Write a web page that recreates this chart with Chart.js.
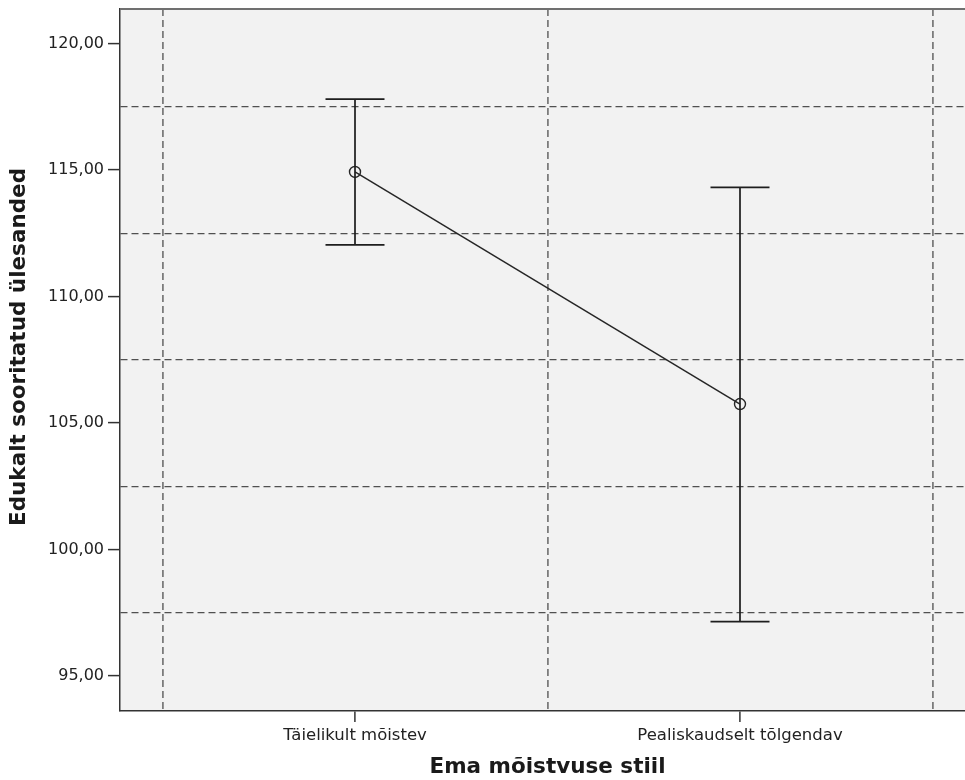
<!DOCTYPE html>
<html>
<head>
<meta charset="utf-8">
<script src="https://cdn.jsdelivr.net/npm/chart.js@4/dist/chart.umd.min.js"></script>
<style>
  html, body { margin: 0; padding: 0; background: #ffffff; overflow: hidden; }
  #wrap { width: 965px; height: 780px; overflow: hidden; position: relative; }
  canvas { display: block; }
</style>
</head>
<body>
<div id="wrap"><canvas id="c" width="975" height="780"></canvas></div>
<script>
// ---- data ----
const categories = ['Täielikult mõistev', 'Pealiskaudselt tõlgendav'];
const means = [114.92, 105.75];
const lowerCI = [112.04, 97.15];
const upperCI = [117.80, 114.31];
const yLabelTicks = [95, 100, 105, 110, 115, 120];
const yGridTicks = [97.5, 102.5, 107.5, 112.5, 117.5];
const xGridTicks = [-0.5, 0.5, 1.5];
const xTitle = 'Ema mõistvuse stiil';
const yTitle = 'Edukalt sooritatud ülesanded';

const AXIS_MIN_Y = 93.62, AXIS_MAX_Y = 121.36;
const AXIS_MIN_X = -0.6104, AXIS_MAX_X = 1.6104;

const FONT = '"DejaVu Sans", "Liberation Sans", sans-serif';

const isLabelTickY = v => yLabelTicks.some(t => Math.abs(t - v) < 1e-6);
const isCategoryTickX = v => Math.abs(v - Math.round(v)) < 1e-6;

const bgPlugin = {
  id: 'bg',
  beforeDraw(chart) {
    const { ctx, chartArea: a } = chart;
    ctx.save();
    ctx.fillStyle = '#ffffff';
    ctx.fillRect(0, 0, chart.width, chart.height);
    ctx.fillStyle = '#f2f2f2';
    ctx.fillRect(a.left, a.top, a.right - a.left, a.bottom - a.top);
    ctx.restore();
  },
  afterDraw(chart) {
    const { ctx, chartArea: a } = chart;
    ctx.save();
    ctx.strokeStyle = '#707070';
    ctx.lineWidth = 2;
    ctx.beginPath();
    ctx.moveTo(a.left, a.top);
    ctx.lineTo(a.right, a.top);
    ctx.stroke();
    ctx.restore();
  }
};

// shifts the y-axis title slightly upward along the axis (as in the reference)
const titleShiftPlugin = {
  id: 'titleShift',
  afterLayout(chart, args, opts) {
    const ys = chart.scales.y;
    if (!ys || ys._shiftWrapped) return;
    const orig = ys.drawTitle;
    ys.drawTitle = function () {
      const ctx = this.ctx;
      ctx.save();
      ctx.translate(0, opts.shiftY);
      orig.apply(this, arguments);
      ctx.restore();
    };
    ys._shiftWrapped = true;
  }
};

const errorBarPlugin = {
  id: 'errorBars',
  afterDatasetsDraw(chart, args, opts) {
    const { ctx } = chart;
    const xs = chart.scales.x, ys = chart.scales.y;
    const half = opts.capHalfWidth;
    ctx.save();
    ctx.strokeStyle = opts.color;
    ctx.lineWidth = opts.lineWidth;
    ctx.setLineDash([]);
    categories.forEach((c, i) => {
      const x = xs.getPixelForValue(i);
      const yl = ys.getPixelForValue(lowerCI[i]);
      const yu = ys.getPixelForValue(upperCI[i]);
      ctx.beginPath();
      ctx.moveTo(x, yu); ctx.lineTo(x, yl);
      ctx.moveTo(x - half, yu); ctx.lineTo(x + half, yu);
      ctx.moveTo(x - half, yl); ctx.lineTo(x + half, yl);
      ctx.stroke();
    });
    ctx.restore();
  }
};

function zeroPadding(scale) {
  scale.paddingTop = 0;
  scale.paddingBottom = 0;
  scale.paddingLeft = 0;
  scale.paddingRight = 0;
}

new Chart(document.getElementById('c'), {
  type: 'line',
  data: {
    datasets: [{
      data: means.map((m, i) => ({ x: i, y: m })),
      borderColor: '#262626',
      borderWidth: 1.5,
      pointRadius: 5.5,
      pointBorderWidth: 1.4,
      pointBorderColor: '#262626',
      pointBackgroundColor: 'rgba(0,0,0,0)',
      fill: false,
      tension: 0
    }]
  },
  options: {
    responsive: false,
    devicePixelRatio: 1,
    animation: false,
    layout: { autoPadding: false, padding: { top: 9, right: 0, left: 0, bottom: 0 } },
    plugins: {
      legend: { display: false },
      tooltip: { enabled: false },
      errorBars: { capHalfWidth: 29.5, color: '#1e1e1e', lineWidth: 1.7 },
      titleShift: { shiftY: -13 }
    },
    scales: {
      x: {
        type: 'linear',
        min: AXIS_MIN_X,
        max: AXIS_MAX_X,
        afterBuildTicks(scale) {
          const vals = categories.map((c, i) => i).concat(xGridTicks).sort((a, b) => a - b);
          scale.ticks = vals.map(v => ({ value: v }));
        },
        afterFit(scale) { scale.height = 69; zeroPadding(scale); },
        ticks: {
          autoSkip: false,
          maxRotation: 0,
          padding: 4,
          color: '#222222',
          font: { family: FONT, size: 16.5 },
          callback: (v) => isCategoryTickX(v) ? categories[Math.round(v)] : ''
        },
        grid: {
          drawOnChartArea: true,
          color: ctx => (ctx.tick && isCategoryTickX(ctx.tick.value)) ? 'rgba(0,0,0,0)' : '#7c7c7c',
          lineWidth: 1.8,
          tickLength: 11,
          tickColor: ctx => (ctx.tick && isCategoryTickX(ctx.tick.value)) ? '#333333' : 'rgba(0,0,0,0)',
          tickWidth: 1.5
        },
        border: { display: true, color: '#333333', width: 1.5, dash: [7, 4] },
        title: {
          display: true,
          text: xTitle,
          color: '#1a1a1a',
          font: { family: FONT, size: 21.5, weight: 'bold', lineHeight: 1 },
          padding: { top: 0, bottom: 1.5 }
        }
      },
      y: {
        type: 'linear',
        min: AXIS_MIN_Y,
        max: AXIS_MAX_Y,
        afterBuildTicks(scale) {
          const vals = yLabelTicks.concat(yGridTicks).sort((a, b) => a - b);
          scale.ticks = vals.map(v => ({ value: v }));
        },
        afterFit(scale) { scale.width = 120; zeroPadding(scale); },
        ticks: {
          autoSkip: false,
          padding: 4,
          color: '#222222',
          font: { family: FONT, size: 16 },
          callback: (v) => isLabelTickY(v) ? v.toFixed(2).replace('.', ',') : ''
        },
        grid: {
          drawOnChartArea: true,
          color: ctx => (ctx.tick && isLabelTickY(ctx.tick.value)) ? 'rgba(0,0,0,0)' : '#505050',
          lineWidth: 1.2,
          tickLength: 12,
          tickColor: ctx => (ctx.tick && isLabelTickY(ctx.tick.value)) ? '#333333' : 'rgba(0,0,0,0)',
          tickWidth: 1.5
        },
        border: { display: true, color: '#333333', width: 1.5, dash: [7, 4] },
        title: {
          display: true,
          text: yTitle,
          color: '#1a1a1a',
          font: { family: FONT, size: 21.5, weight: 'bold', lineHeight: 1 },
          padding: { top: 9, bottom: 0 }
        }
      }
    }
  },
  plugins: [bgPlugin, titleShiftPlugin, errorBarPlugin]
});
</script>
</body>
</html>
